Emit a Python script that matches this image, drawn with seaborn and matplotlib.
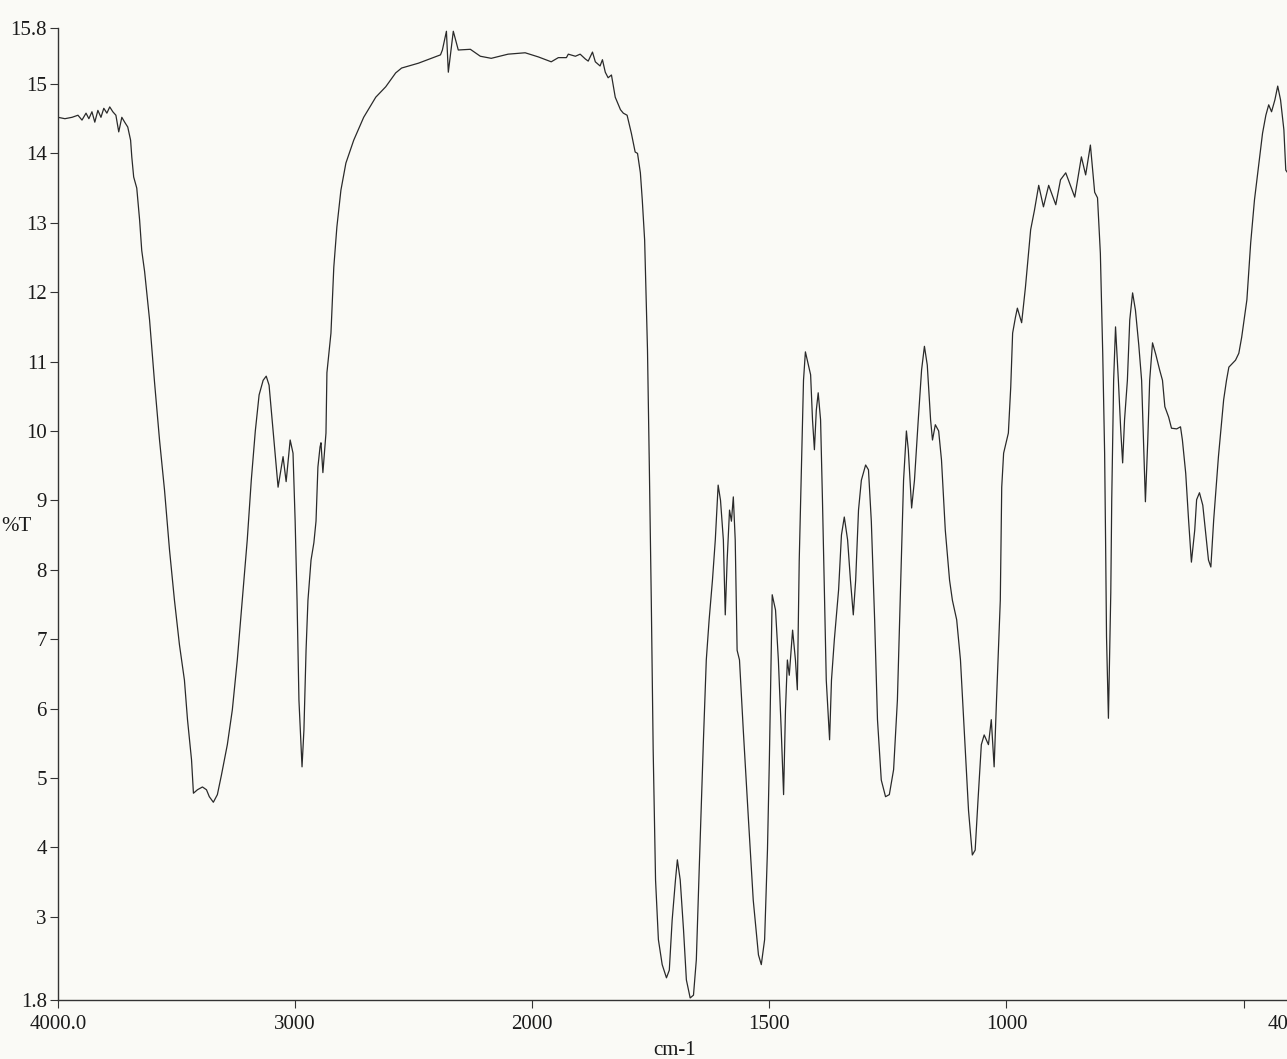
import numpy as np
import pandas as pd
import matplotlib
matplotlib.use('Agg')
import matplotlib.pyplot as plt
import seaborn as sns

# IR spectrum, as (wavenumber cm-1, %T) pairs, by region
baseline_high = [
    (4000, 14.52), (3971, 14.50), (3941, 14.52), (3916, 14.55), (3899, 14.48), (3882, 14.58),
    (3870, 14.50), (3857, 14.60), (3845, 14.45), (3832, 14.62), (3819, 14.52), (3807, 14.65),
    (3794, 14.58), (3782, 14.67), (3769, 14.60), (3756, 14.55), (3744, 14.31), (3731, 14.52),
    (3719, 14.45), (3706, 14.38), (3694, 14.19), (3689, 13.95), (3681, 13.66),
]
oh_band = [
    (3668, 13.50), (3656, 13.04), (3647, 12.60), (3635, 12.30), (3614, 11.60), (3593, 10.70),
    (3572, 9.87), (3551, 9.15), (3530, 8.29), (3509, 7.56), (3488, 6.92), (3467, 6.41),
    (3454, 5.84), (3437, 5.26), (3429, 4.78), (3412, 4.83), (3391, 4.87), (3374, 4.83),
    (3362, 4.73), (3345, 4.65), (3328, 4.76), (3311, 5.04), (3286, 5.48), (3265, 5.98),
    (3244, 6.70), (3223, 7.56), (3202, 8.43), (3185, 9.29), (3168, 10.00), (3152, 10.52),
    (3135, 10.73), (3122, 10.79), (3110, 10.66), (3097, 10.16), (3084, 9.65),
]
ch_band = [
    (3072, 9.19), (3051, 9.63), (3038, 9.27), (3021, 9.87), (3009, 9.68), (3000, 8.70),
    (2992, 7.56), (2984, 6.12), (2971, 5.16), (2963, 5.69), (2954, 6.84), (2946, 7.56),
    (2933, 8.14), (2921, 8.39), (2912, 8.70), (2904, 9.48), (2895, 9.77), (2891, 9.83),
    (2883, 9.40), (2870, 9.97), (2866, 10.84), (2849, 11.41), (2837, 12.36), (2824, 12.94),
    (2807, 13.47), (2786, 13.86), (2753, 14.19), (2711, 14.52), (2660, 14.81), (2618, 14.96),
]
plateau = [
    (2576, 15.16), (2551, 15.23), (2480, 15.30), (2425, 15.37), (2387, 15.42), (2379, 15.49),
    (2362, 15.76), (2354, 15.17), (2333, 15.76), (2312, 15.49), (2261, 15.50), (2219, 15.40),
    (2173, 15.37), (2102, 15.43), (2030, 15.45), (1987, 15.39), (1960, 15.32), (1945, 15.38),
    (1928, 15.38), (1924, 15.43), (1909, 15.40), (1899, 15.43), (1888, 15.36), (1882, 15.33),
    (1873, 15.46), (1867, 15.32), (1857, 15.26), (1852, 15.35), (1846, 15.17), (1840, 15.09),
    (1833, 15.13), (1825, 14.81), (1814, 14.63), (1808, 14.58), (1800, 14.55), (1791, 14.29),
    (1783, 14.02), (1778, 14.00), (1772, 13.72), (1768, 13.33), (1763, 12.75),
]
carbonyl = [
    (1757, 11.17), (1753, 9.44), (1749, 7.56), (1745, 5.40), (1740, 3.53), (1734, 2.67),
    (1726, 2.31), (1717, 2.12), (1711, 2.23), (1705, 2.95), (1698, 3.53), (1694, 3.82),
    (1688, 3.53), (1681, 2.81), (1675, 2.09), (1667, 1.83), (1660, 1.87), (1654, 2.38),
    (1648, 3.67), (1639, 5.55), (1633, 6.70), (1627, 7.28), (1620, 7.85), (1614, 8.43),
    (1608, 9.22), (1603, 9.00), (1597, 8.43), (1593, 7.35), (1589, 8.14), (1584, 8.86),
    (1580, 8.70), (1576, 9.05), (1572, 8.43), (1568, 6.84), (1563, 6.70), (1555, 5.69),
    (1544, 4.39), (1534, 3.24), (1523, 2.45), (1517, 2.31), (1510, 2.67), (1504, 3.96),
]
fingerprint = [
    (1500, 5.26), (1494, 7.64), (1487, 7.42), (1481, 6.70), (1475, 5.69), (1470, 4.76),
    (1466, 5.98), (1462, 6.70), (1458, 6.48), (1451, 7.13), (1445, 6.70), (1441, 6.27),
    (1437, 8.14), (1432, 9.58), (1428, 10.73), (1424, 11.14), (1420, 11.02), (1413, 10.81),
    (1409, 10.16), (1405, 9.73), (1401, 10.30), (1397, 10.55), (1392, 10.16), (1388, 9.00),
    (1384, 7.71), (1380, 6.41), (1373, 5.55), (1369, 6.41), (1363, 6.99), (1354, 7.71),
    (1348, 8.50), (1342, 8.76), (1335, 8.43), (1329, 7.85), (1323, 7.35), (1318, 7.85),
    (1312, 8.86), (1306, 9.29), (1297, 9.51), (1291, 9.44), (1285, 8.70), (1278, 7.28),
    (1272, 5.84), (1264, 4.97), (1255, 4.73), (1247, 4.76), (1238, 5.12), (1230, 6.12),
    (1224, 7.56), (1217, 9.29), (1211, 10.00), (1207, 9.73), (1200, 8.89), (1194, 9.29),
    (1186, 10.16), (1179, 10.88), (1173, 11.22), (1167, 10.95), (1160, 10.16), (1156, 9.87),
    (1150, 10.09), (1143, 10.00), (1137, 9.58), (1129, 8.57), (1120, 7.85), (1114, 7.56),
    (1105, 7.28), (1097, 6.70), (1088, 5.55), (1080, 4.53), (1072, 3.89), (1066, 3.96),
    (1060, 4.68), (1053, 5.48), (1047, 5.62), (1038, 5.48), (1032, 5.84), (1026, 5.16),
    (1021, 6.12), (1013, 7.56), (1010, 9.19), (1006, 9.68),
]
low_end = [
    (996, 9.97), (991, 10.63), (987, 11.41), (981, 11.64), (977, 11.77), (968, 11.56),
    (960, 12.07), (949, 12.90), (941, 13.18), (932, 13.54), (922, 13.23), (911, 13.54),
    (896, 13.26), (886, 13.62), (875, 13.72), (856, 13.37), (842, 13.95), (833, 13.69),
    (823, 14.12), (814, 13.44), (808, 13.36), (802, 12.56), (797, 11.12), (793, 9.68),
    (791, 8.43), (789, 7.03), (785, 5.86), (780, 7.67), (778, 9.01), (774, 10.73),
    (770, 11.50), (764, 10.73), (759, 10.01), (755, 9.54), (751, 10.16), (745, 10.73),
    (740, 11.60), (734, 11.99), (728, 11.74), (721, 11.24), (715, 10.73), (707, 8.98),
    (702, 9.87), (698, 10.73), (692, 11.27), (685, 11.10), (677, 10.88), (671, 10.73),
    (666, 10.35), (658, 10.20), (652, 10.04), (641, 10.03), (633, 10.06), (629, 9.87),
    (622, 9.39), (616, 8.72), (610, 8.11), (603, 8.57), (599, 9.01), (593, 9.11),
    (586, 8.93), (580, 8.53), (574, 8.14), (569, 8.04), (563, 8.72), (553, 9.63),
    (542, 10.45), (536, 10.73), (531, 10.92), (517, 11.02), (510, 11.12), (504, 11.35),
    (493, 11.89), (485, 12.71), (477, 13.33), (466, 13.95), (460, 14.29), (453, 14.55),
    (447, 14.70), (441, 14.60), (434, 14.77), (428, 14.97), (422, 14.77), (415, 14.34),
    (411, 13.76), (405, 13.70), (400, 13.72),
]

x_ticks = [4000, 3000, 2000, 1500, 1000, 500, 400]
x_tick_labels = ['4000.0', '3000', '2000', '1500', '1000', '', '400.0']
y_ticks = [1.8, 3, 4, 5, 6, 7, 8, 9, 10, 11, 12, 13, 14, 15, 15.8]
y_tick_labels = ['1.8', '3', '4', '5', '6', '7', '8', '9', '10', '11', '12', '13', '14', '15', '15.8']

regions = [baseline_high, oh_band, ch_band, plateau, carbonyl, fingerprint, low_end]
df = pd.DataFrame([p for r in regions for p in r], columns=['cm-1', '%T'])

sns.set_style('ticks')
plt.rcParams['font.family'] = ['Liberation Serif', 'DejaVu Serif']
plt.rcParams['font.size'] = 15

bg = '#fafaf6'
fig = plt.figure(figsize=(12.87, 10.59), dpi=100, facecolor=bg)
ax = fig.add_axes([0.0451, 0.0557, 0.958, 0.9174], facecolor=bg)


# the instrument halves the scale above 2000 cm-1
def fwd(x):
    x = np.asarray(x, dtype=float)
    return np.where(x > 2000, 2000 + (x - 2000) / 2, x)


def inv(u):
    u = np.asarray(u, dtype=float)
    return np.where(u > 2000, 2000 + (u - 2000) * 2, u)


ax.set_xscale('function', functions=(fwd, inv))
sns.lineplot(data=df, x='cm-1', y='%T', ax=ax, color='#2a2a2a', lw=0.9,
             estimator=None, sort=False)
ax.set_xlim(4000, 400)
ax.set_ylim(1.8, 15.8)
ax.set_xticks(x_ticks, x_tick_labels)
ax.set_yticks(y_ticks, y_tick_labels)
ax.minorticks_off()
ax.tick_params(direction='out', length=6, width=0.8, color='#333333', labelcolor='#1a1a1a')
ax.tick_params(axis='y', pad=2)
ax.tick_params(axis='x', pad=5)

sns.despine(ax=ax)
for s in ['left', 'bottom']:
    ax.spines[s].set_color('#333333')
    ax.spines[s].set_linewidth(1.0)

ax.set_xlabel('cm-1', labelpad=5, color='#1a1a1a')
ax.set_ylabel('%T', rotation=0, ha='center', va='center', color='#1a1a1a')
ax.yaxis.set_label_coords(-0.034, 0.487)

fig.savefig('out.png', dpi=100, facecolor=bg)
